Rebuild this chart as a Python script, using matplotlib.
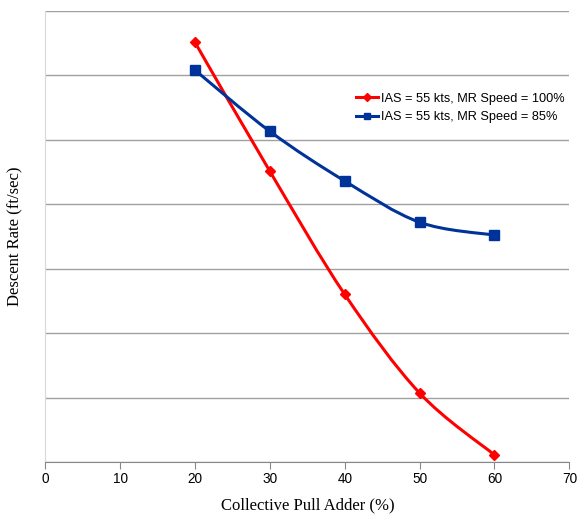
import numpy as np
import matplotlib
matplotlib.use('Agg')
import matplotlib.pyplot as plt
from matplotlib.path import Path
from matplotlib.patches import PathPatch
from matplotlib.lines import Line2D

# collective pull adder (%) and descent rate readings
pull_adder = [20, 30, 40, 50, 60]
descent_100 = [6.51, 4.51, 2.60, 1.07, 0.11]
descent_85 = [6.08, 5.13, 4.36, 3.72, 3.52]
labels = ['IAS = 55 kts, MR Speed = 100%', 'IAS = 55 kts, MR Speed = 85%']
xticks = [0, 10, 20, 30, 40, 50, 60, 70]


def smooth_path(x, y):
    # cubic bezier through the points, spreadsheet-style smoothing
    pts = np.column_stack([x, y]).astype(float)
    ext = np.vstack([pts[0], pts, pts[-1]])
    verts = [pts[0]]
    codes = [Path.MOVETO]
    for i in range(len(pts) - 1):
        p0, p1, p2, p3 = ext[i], ext[i + 1], ext[i + 2], ext[i + 3]
        c1 = p1 + (p2 - p0) / 6.0
        c2 = p2 - (p3 - p1) / 6.0
        verts += [c1, c2, p2]
        codes += [Path.CURVE4] * 3
    return Path(verts, codes)


fig = plt.figure(figsize=(5.78, 5.15), dpi=100)
ax = fig.add_axes([0.0784, 0.1029, 0.9066, 0.876])

red = '#ff0000'
blue = '#003399'

for y, col, mk, ms in [(descent_100, red, 'D', 5.5), (descent_85, blue, 's', 6.5)]:
    ax.add_patch(PathPatch(smooth_path(pull_adder, y), facecolor='none',
                           edgecolor=col, lw=2.2, zorder=3))
    ax.plot(pull_adder, y, linestyle='none', marker=mk, ms=ms, color=col, zorder=4)

ax.set_xlim(0, 70)
ax.set_ylim(0, 7)
ax.set_xticks(xticks)
ax.set_yticks(range(0, 8))
ax.set_yticklabels([])
ax.tick_params(axis='y', length=0)
ax.tick_params(axis='x', direction='out', length=5, color='#888888',
               labelsize=9.8, pad=2)
for lab in ax.get_xticklabels():
    lab.set_family('Liberation Sans')
ax.grid(axis='y', color='#a0a0a0', lw=1)
ax.set_axisbelow(True)
for s in ['top', 'right']:
    ax.spines[s].set_visible(False)
ax.spines['left'].set_color('#d9d9d9')
ax.spines['bottom'].set_color('#888888')

ax.set_xlabel('Collective Pull Adder (%)', family='Liberation Serif',
              fontsize=12, labelpad=8.5)
ax.set_ylabel('Descent Rate (ft/sec)', family='Liberation Serif',
              fontsize=12, labelpad=12)

handles = [Line2D([], [], color=red, lw=2.2, marker='D', ms=4.5),
           Line2D([], [], color=blue, lw=2.2, marker='s', ms=5)]
leg = ax.legend(handles, labels, loc='upper left', bbox_to_anchor=(0.583, 0.83),
                frameon=False, handlelength=1.7, handletextpad=0.25,
                labelspacing=0.5, borderaxespad=0,
                prop={'family': 'Liberation Sans', 'size': 9.2})

fig.savefig('out.png', dpi=100)
